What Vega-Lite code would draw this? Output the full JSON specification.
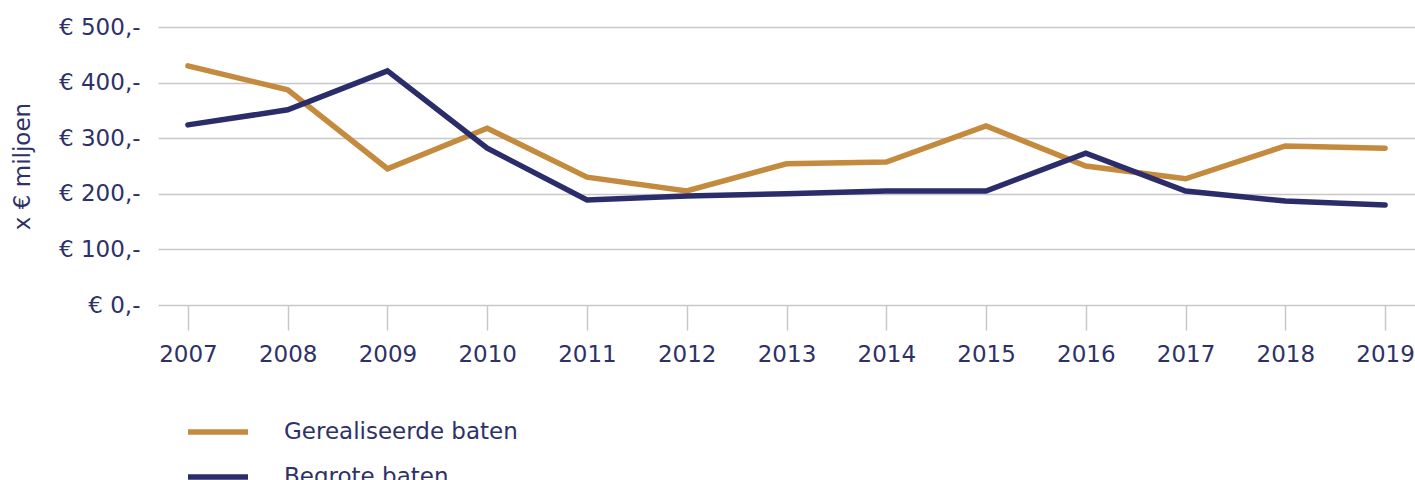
{
  "$schema": "https://vega.github.io/schema/vega-lite/v6.json",
  "width": 1257,
  "height": 278,
  "autosize": {"type": "none"},
  "padding": {"left": 158, "top": 27, "right": 0, "bottom": 175},
  "background": "white",
  "config": {
    "view": {"stroke": null},
    "font": "DejaVu Sans"
  },
  "data": {
    "values": [
      {"jaar": "2007", "reeks": "Gerealiseerde baten", "waarde": 430},
      {"jaar": "2008", "reeks": "Gerealiseerde baten", "waarde": 387},
      {"jaar": "2009", "reeks": "Gerealiseerde baten", "waarde": 245},
      {"jaar": "2010", "reeks": "Gerealiseerde baten", "waarde": 318},
      {"jaar": "2011", "reeks": "Gerealiseerde baten", "waarde": 230},
      {"jaar": "2012", "reeks": "Gerealiseerde baten", "waarde": 205},
      {"jaar": "2013", "reeks": "Gerealiseerde baten", "waarde": 254},
      {"jaar": "2014", "reeks": "Gerealiseerde baten", "waarde": 257},
      {"jaar": "2015", "reeks": "Gerealiseerde baten", "waarde": 322},
      {"jaar": "2016", "reeks": "Gerealiseerde baten", "waarde": 250},
      {"jaar": "2017", "reeks": "Gerealiseerde baten", "waarde": 227},
      {"jaar": "2018", "reeks": "Gerealiseerde baten", "waarde": 286},
      {"jaar": "2019", "reeks": "Gerealiseerde baten", "waarde": 282},
      {"jaar": "2007", "reeks": "Begrote baten", "waarde": 324},
      {"jaar": "2008", "reeks": "Begrote baten", "waarde": 351},
      {"jaar": "2009", "reeks": "Begrote baten", "waarde": 421},
      {"jaar": "2010", "reeks": "Begrote baten", "waarde": 282},
      {"jaar": "2011", "reeks": "Begrote baten", "waarde": 189},
      {"jaar": "2012", "reeks": "Begrote baten", "waarde": 196},
      {"jaar": "2013", "reeks": "Begrote baten", "waarde": 200},
      {"jaar": "2014", "reeks": "Begrote baten", "waarde": 205},
      {"jaar": "2015", "reeks": "Begrote baten", "waarde": 205},
      {"jaar": "2016", "reeks": "Begrote baten", "waarde": 273},
      {"jaar": "2017", "reeks": "Begrote baten", "waarde": 205},
      {"jaar": "2018", "reeks": "Begrote baten", "waarde": 187},
      {"jaar": "2019", "reeks": "Begrote baten", "waarde": 180}
    ]
  },
  "mark": {"type": "line", "strokeWidth": 5.5, "strokeCap": "round", "strokeJoin": "miter"},
  "encoding": {
    "x": {
      "field": "jaar",
      "type": "ordinal",
      "scale": {"type": "point", "padding": 0.3},
      "axis": {
        "title": null,
        "labelAngle": 0,
        "labelFontSize": 23,
        "labelColor": "#2e3168",
        "labelPadding": 13,
        "tickSize": 25,
        "tickColor": "#c8c8cc",
        "tickWidth": 1.5,
        "domain": false,
        "grid": false
      }
    },
    "y": {
      "field": "waarde",
      "type": "quantitative",
      "scale": {"domain": [0, 500]},
      "axis": {
        "title": "x € miljoen",
        "titleFontSize": 23,
        "titleFontWeight": "normal",
        "titleColor": "#2e3168",
        "titlePadding": 24,
        "values": [0, 100, 200, 300, 400, 500],
        "labelExpr": "'€ ' + datum.value + ',-'",
        "labelFontSize": 23,
        "labelColor": "#2e3168",
        "labelPadding": 18,
        "ticks": false,
        "domain": false,
        "grid": true,
        "gridColor": "#c8c8cc",
        "gridWidth": 1.5
      }
    },
    "color": {
      "field": "reeks",
      "type": "nominal",
      "sort": ["Gerealiseerde baten", "Begrote baten"],
      "scale": {"domain": ["Gerealiseerde baten", "Begrote baten"], "range": ["#c48a3d", "#2b2d6b"]},
      "legend": {
        "title": null,
        "orient": "none",
        "legendX": 27,
        "legendY": 372,
        "direction": "vertical",
        "symbolType": "stroke",
        "symbolSize": 3600,
        "symbolStrokeWidth": 5.5,
        "labelFontSize": 23,
        "labelLimit": 500,
        "labelColor": "#2e3168",
        "labelOffset": 33,
        "rowPadding": -30
      }
    }
  }
}
